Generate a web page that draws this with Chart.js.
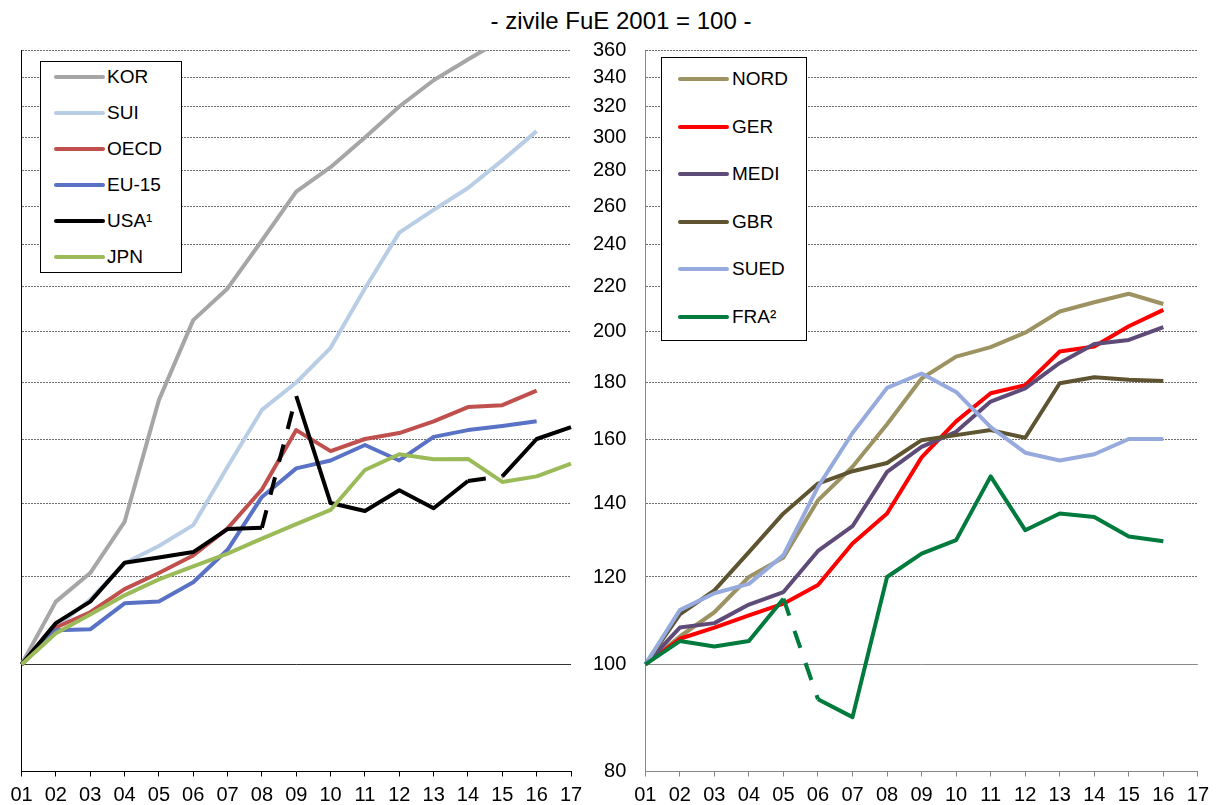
<!DOCTYPE html>
<html>
<head>
<meta charset="utf-8">
<script src="https://cdn.jsdelivr.net/npm/chart.js@4.4.1/dist/chart.umd.min.js"></script>
<style>
  body { margin: 0; background: #fff; font-family: "Liberation Sans", Arial, sans-serif; }
  #wrap { position: relative; width: 1216px; height: 805px; overflow: hidden; }
  #wrap canvas { position: absolute; top: 0; }
  #title { position: absolute; top: 9px; left: 0; width: 1242px; text-align: center; font-size: 24px; line-height: 24px; color: #000; }
  .legend { position: absolute; border: 1px solid #000; background: #fff; box-sizing: border-box; }
  .legend .item { position: absolute; height: 24px; font-size: 19px; line-height: 24px; color: #000; white-space: nowrap; }
  .legend .line { position: absolute; top: 10px; height: 4px; border-radius: 2px; }
  .legend .txt { position: absolute; top: 0; }
</style>
</head>
<body>
<div id="wrap">
  <div id="title">- zivile FuE 2001 = 100 -</div>
  <canvas id="leftChart" width="600" height="805" style="left:0"></canvas>
  <canvas id="rightChart" width="636" height="805" style="left:580px"></canvas>
  <div id="legendLeft" class="legend" style="left:40px; top:61px; width:142px; height:212px;"></div>
  <div id="legendRight" class="legend" style="left:661px; top:57px; width:146px; height:284px;"></div>
</div>
<script>
// Jahre (2001 = 01)
const years = ['01','02','03','04','05','06','07','08','09','10','11','12','13','14','15','16','17'];
const yTicks = [80, 100, 120, 140, 160, 180, 200, 220, 240, 260, 280, 300, 320, 340, 360];

// linkes Panel
const kor  = [100, 114, 121, 134.6, 173.5, 205, 219, 242, 268, 282, 300, 320, 338, 353, 368, 385, null];
const sui  = [100, 108, 114.5, 123.5, 128, 133.7, 151, 170, 180, 193.5, 219, 246, 258, 270, 286, 304, null];
const oecd = [100, 108, 111.5, 117, 121, 125.5, 132.8, 144, 163, 156, 160, 162, 166, 171, 171.7, 177, null];
const eu15 = [100, 107.4, 107.6, 113.6, 114, 118.7, 127, 141.8, 150.5, 153, 158, 153, 160.7, 163, 164.4, 166, null];
const usa  = [100, 109, 114, 123.6, 125, 126.4, 132.6, 133, 175, 140, 137.7, 143.8, 138.5, 146.6, 148, 160, 164];
const jpn  = [100, 106.7, 111, 115.5, 119.4, 122.7, 126, 130, 134, 138, 150, 155, 153.4, 153.5, 146.3, 148, 152];

// rechtes Panel
const nord = [100, 106, 111.5, 120, 125, 140.8, 151, 165, 181.5, 190, 193.8, 199.7, 208.7, 212.8, 216.6, 212, null];
const ger  = [100, 105.5, 108, 110.8, 113.5, 118, 128.7, 137, 154, 166, 176, 179, 192, 194, 202.4, 209.4, null];
const medi = [100, 108, 109, 113.3, 116.3, 126.7, 133.4, 149.4, 157.4, 162.4, 173, 177.8, 187.5, 195, 196.7, 202, null];
const gbr  = [100, 111, 116.7, 126.4, 137, 145.8, 149.6, 152.2, 159.6, 161.3, 163, 160.4, 179.7, 182, 181, 180.6, null];
const sued = [100, 112, 116, 118.3, 125.6, 144.8, 162, 178, 183.4, 176.5, 164, 155.5, 153, 155, 160, 160, null];
const fra  = [100, 105, 103.8, 105, 114.7, 93, 89.6, 120, 126, 129.6, 148, 132.3, 137, 136, 130.6, 129.3, null];

// Bruchstellen (gestrichelte Segmente, Index des Startpunkts)
const usaBreaks = [7, 13];
const fraBreaks = [4];

const leftSeries = [
  { label: 'KOR', data: kor, color: '#a6a6a6' },
  { label: 'SUI', data: sui, color: '#b9cde5' },
  { label: 'OECD', data: oecd, color: '#c0504d' },
  { label: 'EU-15', data: eu15, color: '#5a72c6' },
  { label: 'USA\u00b9', data: usa, color: '#000000', breaks: usaBreaks },
  { label: 'JPN', data: jpn, color: '#9bbb59' }
];
const rightSeries = [
  { label: 'NORD', data: nord, color: '#9c9262' },
  { label: 'GER', data: ger, color: '#ff0000' },
  { label: 'MEDI', data: medi, color: '#5f4b78' },
  { label: 'GBR', data: gbr, color: '#5f5431' },
  { label: 'SUED', data: sued, color: '#97aadd' },
  { label: 'FRA\u00b2', data: fra, color: '#007a3d', breaks: fraBreaks }
];

Chart.defaults.font.family = '"Liberation Sans", Arial, sans-serif';
Chart.defaults.color = '#000';

// durchgezogene 100-Linie
const baseLine = {
  id: 'baseLine',
  beforeDatasetsDraw(chart, args, opts) {
    const y = chart.scales.y.getPixelForValue(100);
    const ctx = chart.ctx;
    ctx.save();
    ctx.strokeStyle = opts.color;
    ctx.lineWidth = 1;
    ctx.beginPath();
    ctx.moveTo(chart.chartArea.left, Math.round(y) + 0.5);
    ctx.lineTo(chart.chartArea.right, Math.round(y) + 0.5);
    ctx.stroke();
    ctx.restore();
  }
};

function makeDatasets(series) {
  return series.map((s, i) => ({
    label: s.label,
    data: s.data,
    borderColor: s.color,
    backgroundColor: s.color,
    borderWidth: 4,
    pointRadius: 0,
    tension: 0,
    borderJoinStyle: 'round',
    order: series.length - i,
    segment: {
      borderDash: ctx => (s.breaks && s.breaks.includes(ctx.p0DataIndex)) ? [18, 16] : undefined
    }
  }));
}

function makeChart(id, series, side) {
  const isLeft = side === 'left';
  const axisColor = isLeft ? '#000' : '#868686';
  return new Chart(document.getElementById(id), {
    type: 'line',
    data: { labels: years, datasets: makeDatasets(series) },
    plugins: [baseLine],
    options: {
      responsive: false,
      animation: false,
      devicePixelRatio: 1,
      layout: { padding: isLeft ? { left: 21.5, right: 29, top: 50, bottom: 0 } : { left: 0, right: 18, top: 50, bottom: 0 } },
      plugins: {
        legend: { display: false },
        tooltip: { enabled: false },
        baseLine: { color: isLeft ? '#333' : '#888' }
      },
      scales: {
        x: {
          type: 'category',
          offset: false,
          grid: { display: true, drawOnChartArea: false, drawTicks: true, tickLength: 5, tickColor: axisColor, tickWidth: 1 },
          border: { display: true, color: axisColor, width: 1 },
          ticks: { font: { size: 20 }, color: '#000', padding: 7, maxRotation: 0, autoSkip: false },
          afterFit: s => { s.height = 33.5; }
        },
        y: {
          type: 'logarithmic',
          min: 80,
          max: 360,
          afterBuildTicks: axis => { axis.ticks = yTicks.map(v => ({ value: v })); },
          grid: {
            drawTicks: false,
            color: c => (c.tick && (c.tick.value === 100 || c.tick.value === 80)) ? 'rgba(0,0,0,0)' : '#6e6e6e',
            lineWidth: 1
          },
          border: { display: true, color: axisColor, width: 1, dash: [2, 1] },
          ticks: {
            display: !isLeft,
            font: { size: 20 },
            color: '#000',
            padding: 19,
            callback: v => String(v)
          },
          afterFit: s => { s.width = isLeft ? 0 : 65.3; }
        }
      }
    }
  });
}

makeChart('leftChart', leftSeries, 'left');
makeChart('rightChart', rightSeries, 'right');

// Legenden
function buildLegend(id, series, top0, step, lineLeft, textLeft) {
  const box = document.getElementById(id);
  series.forEach((s, i) => {
    const item = document.createElement('div');
    item.className = 'item';
    item.style.top = (top0 + i * step - 12) + 'px';
    item.style.left = '0px';
    item.innerHTML = '<div class="line" style="left:' + lineLeft + 'px;width:51px;background:' + s.color + '"></div>' +
      '<div class="txt" style="left:' + textLeft + 'px">' + s.label + '</div>';
    box.appendChild(item);
  });
}
buildLegend('legendLeft', leftSeries, 15, 36, 13, 66);
buildLegend('legendRight', rightSeries, 21, 47.6, 16, 70);
</script>
</body>
</html>
